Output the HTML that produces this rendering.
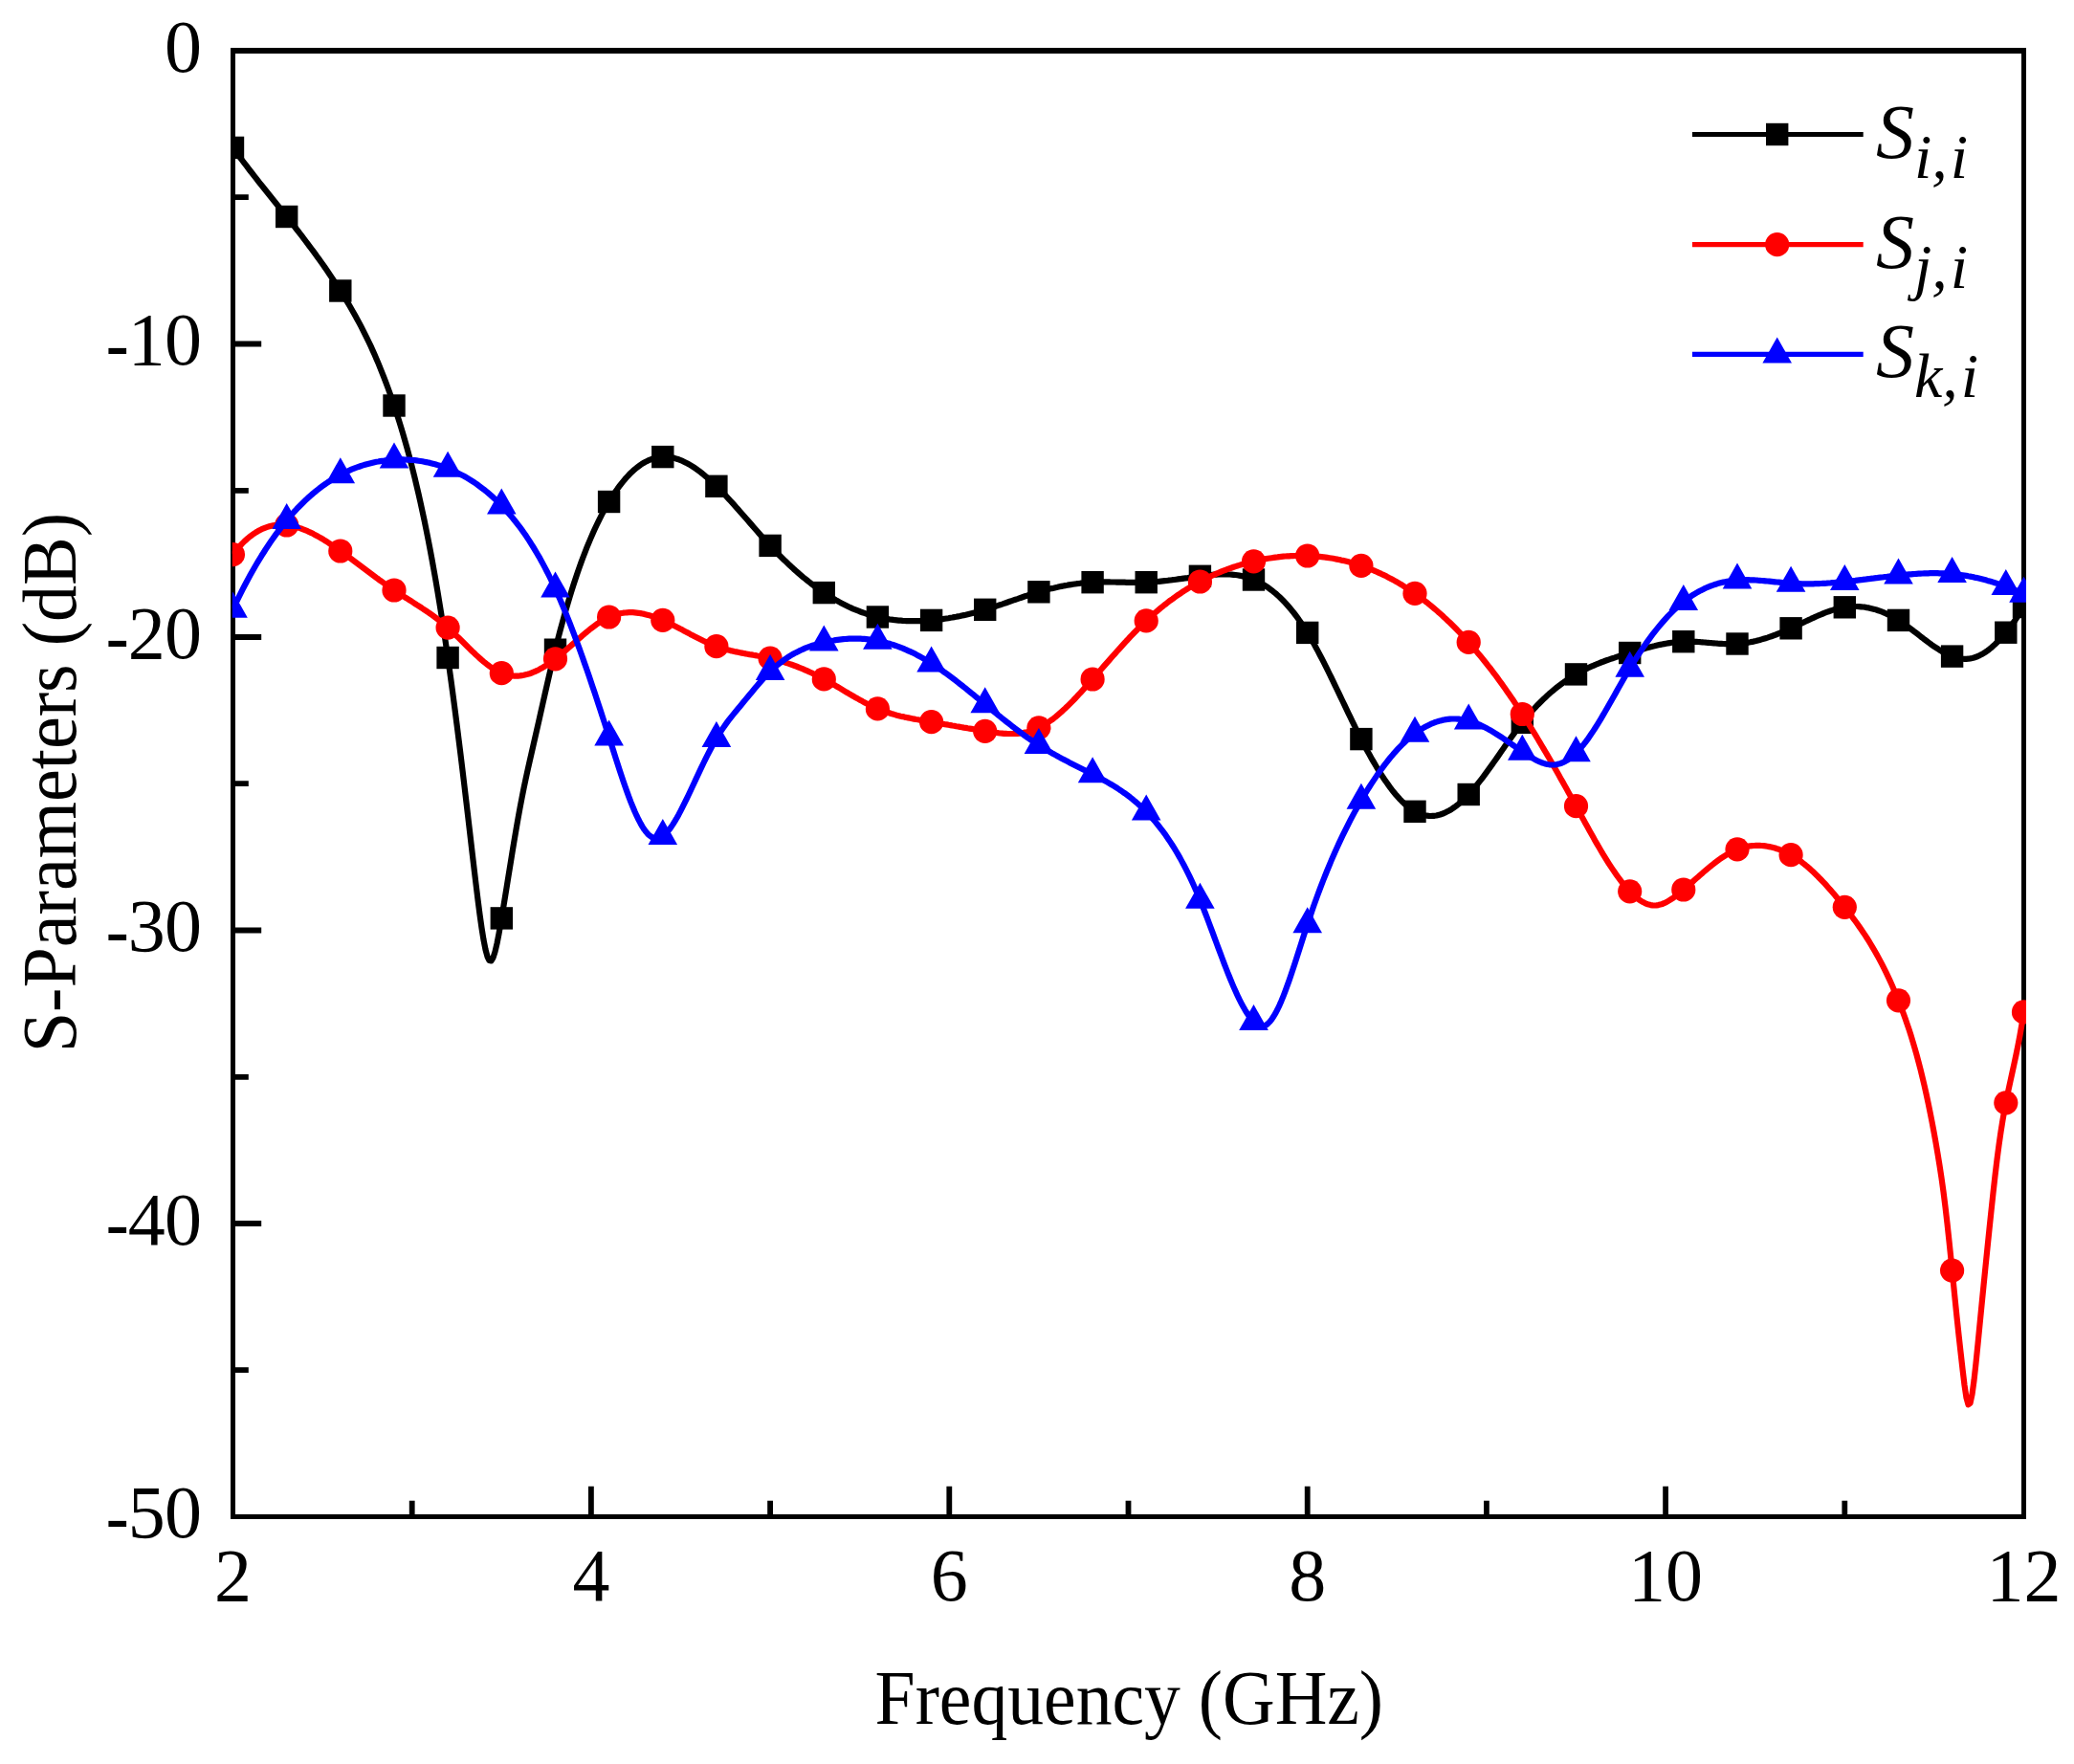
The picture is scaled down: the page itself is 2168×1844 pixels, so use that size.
<!DOCTYPE html>
<html lang="en"><head><meta charset="utf-8"><title>S-Parameters</title>
<style>html,body{margin:0;padding:0;background:#fff}body{width:2168px;height:1844px;position:relative;overflow:hidden}</style></head>
<body>
<svg width="2168" height="1844" viewBox="0 0 2168 1844" style="position:absolute;left:0;top:0">
<defs><clipPath id="pc"><rect x="242.8" y="53.0" width="1875.2" height="1532.5"/></clipPath></defs>
<rect width="2168" height="1844" fill="#fff"/>
<path d="M241,50H2118V1588H241Z M246,56V1583H2113V56Z" fill="#000" fill-rule="evenodd"/>
<g clip-path="url(#pc)">
<path d="M243.5,154.4 L245.5,157.2 L247.5,159.9 L249.5,162.6 L251.5,165.3 L253.5,168.0 L255.5,170.6 L257.5,173.2 L259.5,175.9 L261.5,178.5 L263.5,181.0 L265.5,183.6 L267.5,186.2 L269.5,188.7 L271.5,191.3 L273.5,193.8 L275.5,196.3 L277.5,198.8 L279.5,201.3 L281.5,203.8 L283.5,206.3 L285.5,208.8 L287.5,211.3 L289.5,213.8 L291.5,216.3 L293.5,218.8 L295.5,221.3 L297.5,223.8 L299.5,226.3 L301.5,228.8 L303.5,231.3 L305.5,233.9 L307.5,236.4 L309.5,239.0 L311.5,241.5 L313.5,244.1 L315.5,246.7 L317.5,249.3 L319.5,252.0 L321.5,254.6 L323.5,257.3 L325.5,260.0 L327.5,262.7 L329.5,265.4 L331.5,268.2 L333.5,270.9 L335.5,273.7 L337.5,276.6 L339.5,279.4 L341.5,282.3 L343.5,285.3 L345.5,288.2 L347.5,291.2 L349.5,294.2 L351.5,297.3 L353.5,300.4 L355.5,303.5 L357.5,306.7 L359.5,309.9 L361.5,313.1 L363.5,316.4 L365.5,319.8 L367.5,323.2 L369.5,326.7 L371.5,330.3 L373.5,333.9 L375.5,337.6 L377.5,341.4 L379.5,345.3 L381.5,349.3 L383.5,353.3 L385.5,357.5 L387.5,361.7 L389.5,366.1 L391.5,370.6 L393.5,375.2 L395.5,379.9 L397.5,384.8 L399.5,389.8 L401.5,394.9 L403.5,400.1 L405.5,405.5 L407.5,411.0 L409.5,416.7 L411.5,422.6 L413.5,428.6 L415.5,434.8 L417.5,441.1 L419.5,447.6 L421.5,454.4 L423.5,461.3 L425.5,468.4 L427.5,475.8 L429.5,483.4 L431.5,491.2 L433.5,499.3 L435.5,507.7 L437.5,516.3 L439.5,525.1 L441.5,534.3 L443.5,543.7 L445.5,553.5 L447.5,563.5 L449.5,573.9 L451.5,584.6 L453.5,595.7 L455.5,607.0 L457.5,618.8 L459.5,630.9 L461.5,643.3 L463.5,656.2 L465.5,669.4 L467.5,683.1 L469.5,697.1 L471.5,711.5 L473.5,726.3 L475.5,741.5 L477.5,757.0 L479.5,772.8 L481.5,788.9 L483.5,805.3 L485.5,822.0 L487.5,838.9 L489.5,856.0 L491.5,873.2 L493.5,890.3 L495.5,907.3 L497.5,924.0 L499.5,940.3 L501.5,955.8 L503.5,970.0 L505.5,982.4 L507.5,992.6 L509.5,1000.0 L511.5,1004.0 L513.5,1004.4 L515.5,1001.1 L517.5,994.9 L519.5,986.4 L521.5,976.1 L523.5,964.7 L525.5,952.7 L527.5,940.5 L529.5,928.2 L531.5,915.8 L533.5,903.4 L535.5,891.1 L537.5,879.1 L539.5,867.2 L541.5,855.8 L543.5,844.8 L545.5,834.2 L547.5,824.2 L549.5,814.7 L551.5,805.4 L553.5,796.5 L555.5,787.7 L557.5,779.0 L559.5,770.3 L561.5,761.5 L563.5,752.7 L565.5,743.8 L567.5,734.9 L569.5,726.0 L571.5,717.2 L573.5,708.5 L575.5,699.9 L577.5,691.4 L579.5,683.1 L581.5,675.0 L583.5,667.1 L585.5,659.4 L587.5,652.0 L589.5,644.7 L591.5,637.6 L593.5,630.8 L595.5,624.1 L597.5,617.6 L599.5,611.3 L601.5,605.2 L603.5,599.3 L605.5,593.5 L607.5,587.9 L609.5,582.5 L611.5,577.3 L613.5,572.2 L615.5,567.3 L617.5,562.6 L619.5,558.0 L621.5,553.5 L623.5,549.2 L625.5,545.1 L627.5,541.1 L629.5,537.2 L631.5,533.5 L633.5,529.9 L635.5,526.4 L637.5,523.0 L639.5,519.8 L641.5,516.7 L643.5,513.8 L645.5,510.9 L647.5,508.2 L649.5,505.6 L651.5,503.1 L653.5,500.7 L655.5,498.5 L657.5,496.3 L659.5,494.3 L661.5,492.4 L663.5,490.7 L665.5,489.0 L667.5,487.5 L669.5,486.0 L671.5,484.7 L673.5,483.5 L675.5,482.4 L677.5,481.4 L679.5,480.6 L681.5,479.8 L683.5,479.2 L685.5,478.6 L687.5,478.2 L689.5,477.9 L691.5,477.7 L693.5,477.6 L695.5,477.6 L697.5,477.7 L699.5,477.9 L701.5,478.2 L703.5,478.6 L705.5,479.1 L707.5,479.7 L709.5,480.3 L711.5,481.1 L713.5,481.9 L715.5,482.9 L717.5,483.9 L719.5,485.0 L721.5,486.1 L723.5,487.3 L725.5,488.6 L727.5,490.0 L729.5,491.5 L731.5,492.9 L733.5,494.5 L735.5,496.1 L737.5,497.8 L739.5,499.5 L741.5,501.3 L743.5,503.1 L745.5,505.0 L747.5,506.9 L749.5,508.9 L751.5,510.8 L753.5,512.9 L755.5,514.9 L757.5,517.0 L759.5,519.2 L761.5,521.3 L763.5,523.5 L765.5,525.7 L767.5,527.9 L769.5,530.2 L771.5,532.4 L773.5,534.7 L775.5,537.0 L777.5,539.3 L779.5,541.5 L781.5,543.8 L783.5,546.1 L785.5,548.4 L787.5,550.7 L789.5,553.0 L791.5,555.3 L793.5,557.6 L795.5,559.8 L797.5,562.1 L799.5,564.3 L801.5,566.5 L803.5,568.7 L805.5,570.8 L807.5,573.0 L809.5,575.1 L811.5,577.1 L813.5,579.2 L815.5,581.2 L817.5,583.2 L819.5,585.2 L821.5,587.1 L823.5,589.0 L825.5,590.9 L827.5,592.7 L829.5,594.6 L831.5,596.4 L833.5,598.1 L835.5,599.9 L837.5,601.6 L839.5,603.3 L841.5,604.9 L843.5,606.5 L845.5,608.1 L847.5,609.7 L849.5,611.2 L851.5,612.7 L853.5,614.2 L855.5,615.6 L857.5,617.0 L859.5,618.4 L861.5,619.8 L863.5,621.1 L865.5,622.4 L867.5,623.6 L869.5,624.8 L871.5,626.0 L873.5,627.2 L875.5,628.3 L877.5,629.4 L879.5,630.5 L881.5,631.5 L883.5,632.5 L885.5,633.5 L887.5,634.5 L889.5,635.4 L891.5,636.3 L893.5,637.1 L895.5,637.9 L897.5,638.7 L899.5,639.5 L901.5,640.2 L903.5,640.9 L905.5,641.6 L907.5,642.3 L909.5,642.9 L911.5,643.5 L913.5,644.0 L915.5,644.5 L917.5,645.0 L919.5,645.5 L921.5,645.9 L923.5,646.3 L925.5,646.7 L927.5,647.0 L929.5,647.4 L931.5,647.7 L933.5,647.9 L935.5,648.2 L937.5,648.4 L939.5,648.6 L941.5,648.7 L943.5,648.9 L945.5,649.0 L947.5,649.1 L949.5,649.2 L951.5,649.2 L953.5,649.2 L955.5,649.2 L957.5,649.2 L959.5,649.2 L961.5,649.1 L963.5,649.1 L965.5,649.0 L967.5,648.9 L969.5,648.7 L971.5,648.6 L973.5,648.4 L975.5,648.2 L977.5,648.0 L979.5,647.8 L981.5,647.6 L983.5,647.3 L985.5,647.1 L987.5,646.8 L989.5,646.5 L991.5,646.2 L993.5,645.8 L995.5,645.5 L997.5,645.1 L999.5,644.8 L1001.5,644.4 L1003.5,644.0 L1005.5,643.5 L1007.5,643.1 L1009.5,642.7 L1011.5,642.2 L1013.5,641.7 L1015.5,641.2 L1017.5,640.7 L1019.5,640.2 L1021.5,639.7 L1023.5,639.1 L1025.5,638.5 L1027.5,638.0 L1029.5,637.4 L1031.5,636.8 L1033.5,636.2 L1035.5,635.5 L1037.5,634.9 L1039.5,634.2 L1041.5,633.6 L1043.5,632.9 L1045.5,632.2 L1047.5,631.6 L1049.5,630.9 L1051.5,630.2 L1053.5,629.5 L1055.5,628.8 L1057.5,628.1 L1059.5,627.4 L1061.5,626.7 L1063.5,626.1 L1065.5,625.4 L1067.5,624.7 L1069.5,624.0 L1071.5,623.3 L1073.5,622.7 L1075.5,622.0 L1077.5,621.4 L1079.5,620.8 L1081.5,620.1 L1083.5,619.5 L1085.5,618.9 L1087.5,618.3 L1089.5,617.8 L1091.5,617.2 L1093.5,616.7 L1095.5,616.1 L1097.5,615.6 L1099.5,615.1 L1101.5,614.7 L1103.5,614.2 L1105.5,613.8 L1107.5,613.3 L1109.5,612.9 L1111.5,612.5 L1113.5,612.1 L1115.5,611.8 L1117.5,611.4 L1119.5,611.1 L1121.5,610.8 L1123.5,610.5 L1125.5,610.2 L1127.5,610.0 L1129.5,609.7 L1131.5,609.5 L1133.5,609.3 L1135.5,609.1 L1137.5,609.0 L1139.5,608.8 L1141.5,608.7 L1143.5,608.6 L1145.5,608.6 L1147.5,608.5 L1149.5,608.4 L1151.5,608.4 L1153.5,608.4 L1155.5,608.4 L1157.5,608.4 L1159.5,608.4 L1161.5,608.5 L1163.5,608.5 L1165.5,608.5 L1167.5,608.6 L1169.5,608.6 L1171.5,608.7 L1173.5,608.7 L1175.5,608.7 L1177.5,608.8 L1179.5,608.8 L1181.5,608.9 L1183.5,608.9 L1185.5,608.9 L1187.5,608.9 L1189.5,608.9 L1191.5,608.9 L1193.5,608.8 L1195.5,608.8 L1197.5,608.7 L1199.5,608.6 L1201.5,608.5 L1203.5,608.4 L1205.5,608.3 L1207.5,608.1 L1209.5,608.0 L1211.5,607.8 L1213.5,607.6 L1215.5,607.4 L1217.5,607.2 L1219.5,607.0 L1221.5,606.7 L1223.5,606.5 L1225.5,606.2 L1227.5,606.0 L1229.5,605.7 L1231.5,605.4 L1233.5,605.2 L1235.5,604.9 L1237.5,604.6 L1239.5,604.3 L1241.5,604.1 L1243.5,603.8 L1245.5,603.5 L1247.5,603.2 L1249.5,602.9 L1251.5,602.7 L1253.5,602.4 L1255.5,602.2 L1257.5,601.9 L1259.5,601.7 L1261.5,601.4 L1263.5,601.2 L1265.5,601.0 L1267.5,600.8 L1269.5,600.7 L1271.5,600.6 L1273.5,600.4 L1275.5,600.4 L1277.5,600.3 L1279.5,600.3 L1281.5,600.3 L1283.5,600.4 L1285.5,600.5 L1287.5,600.6 L1289.5,600.8 L1291.5,601.0 L1293.5,601.3 L1295.5,601.6 L1297.5,602.0 L1299.5,602.5 L1301.5,603.0 L1303.5,603.5 L1305.5,604.1 L1307.5,604.8 L1309.5,605.6 L1311.5,606.4 L1313.5,607.3 L1315.5,608.3 L1317.5,609.3 L1319.5,610.4 L1321.5,611.6 L1323.5,612.9 L1325.5,614.2 L1327.5,615.7 L1329.5,617.2 L1331.5,618.8 L1333.5,620.4 L1335.5,622.2 L1337.5,624.0 L1339.5,626.0 L1341.5,628.0 L1343.5,630.1 L1345.5,632.3 L1347.5,634.6 L1349.5,637.0 L1351.5,639.4 L1353.5,642.0 L1355.5,644.7 L1357.5,647.4 L1359.5,650.3 L1361.5,653.2 L1363.5,656.3 L1365.5,659.5 L1367.5,662.7 L1369.5,666.1 L1371.5,669.5 L1373.5,673.1 L1375.5,676.7 L1377.5,680.4 L1379.5,684.2 L1381.5,688.0 L1383.5,691.9 L1385.5,695.9 L1387.5,699.9 L1389.5,704.0 L1391.5,708.0 L1393.5,712.2 L1395.5,716.3 L1397.5,720.5 L1399.5,724.7 L1401.5,728.8 L1403.5,733.0 L1405.5,737.2 L1407.5,741.4 L1409.5,745.6 L1411.5,749.7 L1413.5,753.8 L1415.5,757.9 L1417.5,762.0 L1419.5,766.0 L1421.5,769.9 L1423.5,773.8 L1425.5,777.7 L1427.5,781.5 L1429.5,785.2 L1431.5,788.8 L1433.5,792.4 L1435.5,795.9 L1437.5,799.3 L1439.5,802.7 L1441.5,806.0 L1443.5,809.1 L1445.5,812.2 L1447.5,815.2 L1449.5,818.1 L1451.5,820.9 L1453.5,823.7 L1455.5,826.3 L1457.5,828.8 L1459.5,831.2 L1461.5,833.4 L1463.5,835.6 L1465.5,837.7 L1467.5,839.6 L1469.5,841.4 L1471.5,843.1 L1473.5,844.7 L1475.5,846.1 L1477.5,847.4 L1479.5,848.6 L1481.5,849.6 L1483.5,850.5 L1485.5,851.2 L1487.5,851.8 L1489.5,852.3 L1491.5,852.7 L1493.5,852.9 L1495.5,853.0 L1497.5,852.9 L1499.5,852.8 L1501.5,852.5 L1503.5,852.0 L1505.5,851.5 L1507.5,850.8 L1509.5,850.0 L1511.5,849.1 L1513.5,848.1 L1515.5,847.0 L1517.5,845.8 L1519.5,844.4 L1521.5,843.0 L1523.5,841.5 L1525.5,839.8 L1527.5,838.1 L1529.5,836.2 L1531.5,834.3 L1533.5,832.3 L1535.5,830.2 L1537.5,828.0 L1539.5,825.7 L1541.5,823.3 L1543.5,820.9 L1545.5,818.4 L1547.5,815.9 L1549.5,813.3 L1551.5,810.6 L1553.5,807.9 L1555.5,805.2 L1557.5,802.4 L1559.5,799.6 L1561.5,796.8 L1563.5,793.9 L1565.5,791.1 L1567.5,788.2 L1569.5,785.3 L1571.5,782.5 L1573.5,779.6 L1575.5,776.8 L1577.5,773.9 L1579.5,771.1 L1581.5,768.4 L1583.5,765.6 L1585.5,762.9 L1587.5,760.3 L1589.5,757.7 L1591.5,755.1 L1593.5,752.6 L1595.5,750.2 L1597.5,747.8 L1599.5,745.5 L1601.5,743.2 L1603.5,741.0 L1605.5,738.8 L1607.5,736.7 L1609.5,734.7 L1611.5,732.7 L1613.5,730.8 L1615.5,728.9 L1617.5,727.0 L1619.5,725.2 L1621.5,723.5 L1623.5,721.8 L1625.5,720.1 L1627.5,718.5 L1629.5,717.0 L1631.5,715.5 L1633.5,714.0 L1635.5,712.6 L1637.5,711.2 L1639.5,709.9 L1641.5,708.6 L1643.5,707.3 L1645.5,706.1 L1647.5,704.9 L1649.5,703.8 L1651.5,702.7 L1653.5,701.6 L1655.5,700.5 L1657.5,699.5 L1659.5,698.6 L1661.5,697.6 L1663.5,696.7 L1665.5,695.8 L1667.5,695.0 L1669.5,694.1 L1671.5,693.3 L1673.5,692.5 L1675.5,691.8 L1677.5,691.0 L1679.5,690.3 L1681.5,689.6 L1683.5,688.9 L1685.5,688.2 L1687.5,687.6 L1689.5,686.9 L1691.5,686.3 L1693.5,685.6 L1695.5,685.0 L1697.5,684.4 L1699.5,683.8 L1701.5,683.2 L1703.5,682.5 L1705.5,681.9 L1707.5,681.3 L1709.5,680.7 L1711.5,680.2 L1713.5,679.6 L1715.5,679.0 L1717.5,678.4 L1719.5,677.9 L1721.5,677.3 L1723.5,676.8 L1725.5,676.2 L1727.5,675.7 L1729.5,675.3 L1731.5,674.8 L1733.5,674.3 L1735.5,673.9 L1737.5,673.5 L1739.5,673.1 L1741.5,672.7 L1743.5,672.4 L1745.5,672.1 L1747.5,671.8 L1749.5,671.5 L1751.5,671.3 L1753.5,671.1 L1755.5,670.9 L1757.5,670.8 L1759.5,670.7 L1761.5,670.7 L1763.5,670.6 L1765.5,670.6 L1767.5,670.7 L1769.5,670.7 L1771.5,670.8 L1773.5,670.9 L1775.5,671.0 L1777.5,671.2 L1779.5,671.3 L1781.5,671.5 L1783.5,671.7 L1785.5,671.8 L1787.5,672.0 L1789.5,672.2 L1791.5,672.3 L1793.5,672.5 L1795.5,672.7 L1797.5,672.8 L1799.5,672.9 L1801.5,673.0 L1803.5,673.1 L1805.5,673.2 L1807.5,673.2 L1809.5,673.2 L1811.5,673.2 L1813.5,673.1 L1815.5,673.0 L1817.5,672.9 L1819.5,672.7 L1821.5,672.5 L1823.5,672.2 L1825.5,672.0 L1827.5,671.6 L1829.5,671.3 L1831.5,670.9 L1833.5,670.4 L1835.5,670.0 L1837.5,669.5 L1839.5,669.0 L1841.5,668.4 L1843.5,667.8 L1845.5,667.2 L1847.5,666.6 L1849.5,665.9 L1851.5,665.2 L1853.5,664.5 L1855.5,663.8 L1857.5,663.0 L1859.5,662.2 L1861.5,661.4 L1863.5,660.6 L1865.5,659.7 L1867.5,658.9 L1869.5,658.0 L1871.5,657.1 L1873.5,656.2 L1875.5,655.2 L1877.5,654.3 L1879.5,653.4 L1881.5,652.4 L1883.5,651.5 L1885.5,650.5 L1887.5,649.5 L1889.5,648.6 L1891.5,647.7 L1893.5,646.7 L1895.5,645.8 L1897.5,644.9 L1899.5,644.0 L1901.5,643.1 L1903.5,642.3 L1905.5,641.5 L1907.5,640.7 L1909.5,639.9 L1911.5,639.2 L1913.5,638.5 L1915.5,637.9 L1917.5,637.3 L1919.5,636.7 L1921.5,636.2 L1923.5,635.7 L1925.5,635.3 L1927.5,634.9 L1929.5,634.6 L1931.5,634.4 L1933.5,634.2 L1935.5,634.1 L1937.5,634.0 L1939.5,634.0 L1941.5,634.0 L1943.5,634.1 L1945.5,634.3 L1947.5,634.5 L1949.5,634.7 L1951.5,635.1 L1953.5,635.4 L1955.5,635.9 L1957.5,636.4 L1959.5,636.9 L1961.5,637.5 L1963.5,638.2 L1965.5,638.9 L1967.5,639.7 L1969.5,640.5 L1971.5,641.4 L1973.5,642.3 L1975.5,643.3 L1977.5,644.3 L1979.5,645.4 L1981.5,646.6 L1983.5,647.8 L1985.5,649.1 L1987.5,650.4 L1989.5,651.7 L1991.5,653.1 L1993.5,654.6 L1995.5,656.0 L1997.5,657.5 L1999.5,659.0 L2001.5,660.6 L2003.5,662.1 L2005.5,663.6 L2007.5,665.2 L2009.5,666.7 L2011.5,668.3 L2013.5,669.8 L2015.5,671.3 L2017.5,672.7 L2019.5,674.2 L2021.5,675.6 L2023.5,676.9 L2025.5,678.2 L2027.5,679.5 L2029.5,680.7 L2031.5,681.8 L2033.5,682.9 L2035.5,683.9 L2037.5,684.8 L2039.5,685.7 L2041.5,686.4 L2043.5,687.1 L2045.5,687.6 L2047.5,688.1 L2049.5,688.5 L2051.5,688.7 L2053.5,688.8 L2055.5,688.8 L2057.5,688.7 L2059.5,688.4 L2061.5,688.0 L2063.5,687.5 L2065.5,686.8 L2067.5,686.0 L2069.5,685.1 L2071.5,684.1 L2073.5,682.9 L2075.5,681.6 L2077.5,680.2 L2079.5,678.7 L2081.5,677.1 L2083.5,675.3 L2085.5,673.5 L2087.5,671.6 L2089.5,669.5 L2091.5,667.3 L2093.5,665.1 L2095.5,662.8 L2097.5,660.3 L2099.5,657.8 L2101.5,655.2 L2103.5,652.4 L2105.5,649.7 L2107.5,646.8 L2109.5,643.8 L2111.5,640.8 L2113.5,637.7 L2115.5,634.5" fill="none" stroke="#000" stroke-width="6.2" stroke-linejoin="round"/>
<g fill="#000"><rect x="231.8" y="142.7" width="23.4" height="23.4"/><rect x="288.0" y="214.8" width="23.4" height="23.4"/><rect x="344.1" y="292.3" width="23.4" height="23.4"/><rect x="400.3" y="412.3" width="23.4" height="23.4"/><rect x="456.4" y="675.8" width="23.4" height="23.4"/><rect x="512.6" y="948.2" width="23.4" height="23.4"/><rect x="568.8" y="667.5" width="23.4" height="23.4"/><rect x="624.9" y="512.8" width="23.4" height="23.4"/><rect x="681.1" y="465.9" width="23.4" height="23.4"/><rect x="737.2" y="496.6" width="23.4" height="23.4"/><rect x="793.4" y="558.7" width="23.4" height="23.4"/><rect x="849.6" y="607.9" width="23.4" height="23.4"/><rect x="905.7" y="633.3" width="23.4" height="23.4"/><rect x="961.9" y="636.7" width="23.4" height="23.4"/><rect x="1018.0" y="625.6" width="23.4" height="23.4"/><rect x="1074.2" y="607.1" width="23.4" height="23.4"/><rect x="1130.4" y="597.0" width="23.4" height="23.4"/><rect x="1186.5" y="597.0" width="23.4" height="23.4"/><rect x="1242.7" y="590.6" width="23.4" height="23.4"/><rect x="1298.8" y="594.3" width="23.4" height="23.4"/><rect x="1355.0" y="649.7" width="23.4" height="23.4"/><rect x="1411.2" y="760.9" width="23.4" height="23.4"/><rect x="1467.3" y="836.6" width="23.4" height="23.4"/><rect x="1523.5" y="818.8" width="23.4" height="23.4"/><rect x="1579.6" y="743.6" width="23.4" height="23.4"/><rect x="1635.8" y="693.2" width="23.4" height="23.4"/><rect x="1692.0" y="670.8" width="23.4" height="23.4"/><rect x="1748.1" y="659.0" width="23.4" height="23.4"/><rect x="1804.3" y="661.3" width="23.4" height="23.4"/><rect x="1860.4" y="645.1" width="23.4" height="23.4"/><rect x="1916.6" y="623.1" width="23.4" height="23.4"/><rect x="1972.8" y="636.7" width="23.4" height="23.4"/><rect x="2028.9" y="674.4" width="23.4" height="23.4"/><rect x="2085.1" y="649.5" width="23.4" height="23.4"/><rect x="2103.8" y="622.8" width="23.4" height="23.4"/></g>
<path d="M243.5,579.7 L245.5,577.1 L247.5,574.6 L249.5,572.2 L251.5,570.0 L253.5,567.9 L255.5,565.9 L257.5,564.1 L259.5,562.3 L261.5,560.7 L263.5,559.2 L265.5,557.8 L267.5,556.5 L269.5,555.3 L271.5,554.2 L273.5,553.2 L275.5,552.4 L277.5,551.6 L279.5,550.9 L281.5,550.3 L283.5,549.8 L285.5,549.4 L287.5,549.1 L289.5,548.9 L291.5,548.8 L293.5,548.7 L295.5,548.7 L297.5,548.8 L299.5,549.0 L301.5,549.2 L303.5,549.5 L305.5,549.9 L307.5,550.4 L309.5,550.9 L311.5,551.5 L313.5,552.1 L315.5,552.8 L317.5,553.6 L319.5,554.4 L321.5,555.2 L323.5,556.2 L325.5,557.1 L327.5,558.1 L329.5,559.2 L331.5,560.3 L333.5,561.4 L335.5,562.5 L337.5,563.7 L339.5,565.0 L341.5,566.2 L343.5,567.5 L345.5,568.9 L347.5,570.2 L349.5,571.6 L351.5,572.9 L353.5,574.4 L355.5,575.8 L357.5,577.2 L359.5,578.6 L361.5,580.1 L363.5,581.6 L365.5,583.0 L367.5,584.5 L369.5,586.0 L371.5,587.5 L373.5,589.0 L375.5,590.5 L377.5,592.0 L379.5,593.5 L381.5,595.0 L383.5,596.5 L385.5,598.0 L387.5,599.5 L389.5,601.0 L391.5,602.5 L393.5,604.0 L395.5,605.4 L397.5,606.9 L399.5,608.3 L401.5,609.7 L403.5,611.2 L405.5,612.6 L407.5,614.0 L409.5,615.3 L411.5,616.7 L413.5,618.0 L415.5,619.3 L417.5,620.6 L419.5,621.9 L421.5,623.2 L423.5,624.5 L425.5,625.7 L427.5,627.0 L429.5,628.2 L431.5,629.5 L433.5,630.8 L435.5,632.1 L437.5,633.3 L439.5,634.6 L441.5,636.0 L443.5,637.3 L445.5,638.6 L447.5,640.0 L449.5,641.4 L451.5,642.8 L453.5,644.3 L455.5,645.8 L457.5,647.3 L459.5,648.9 L461.5,650.5 L463.5,652.1 L465.5,653.8 L467.5,655.5 L469.5,657.3 L471.5,659.2 L473.5,661.0 L475.5,662.9 L477.5,664.9 L479.5,666.8 L481.5,668.8 L483.5,670.8 L485.5,672.8 L487.5,674.8 L489.5,676.8 L491.5,678.7 L493.5,680.7 L495.5,682.6 L497.5,684.5 L499.5,686.3 L501.5,688.1 L503.5,689.9 L505.5,691.6 L507.5,693.2 L509.5,694.8 L511.5,696.3 L513.5,697.7 L515.5,699.0 L517.5,700.3 L519.5,701.4 L521.5,702.4 L523.5,703.4 L525.5,704.2 L527.5,704.9 L529.5,705.4 L531.5,705.9 L533.5,706.2 L535.5,706.5 L537.5,706.6 L539.5,706.6 L541.5,706.6 L543.5,706.4 L545.5,706.1 L547.5,705.8 L549.5,705.3 L551.5,704.8 L553.5,704.2 L555.5,703.5 L557.5,702.7 L559.5,701.8 L561.5,700.9 L563.5,699.9 L565.5,698.8 L567.5,697.7 L569.5,696.5 L571.5,695.2 L573.5,693.9 L575.5,692.5 L577.5,691.0 L579.5,689.5 L581.5,688.0 L583.5,686.4 L585.5,684.8 L587.5,683.1 L589.5,681.4 L591.5,679.7 L593.5,677.9 L595.5,676.2 L597.5,674.4 L599.5,672.6 L601.5,670.9 L603.5,669.1 L605.5,667.3 L607.5,665.6 L609.5,663.8 L611.5,662.1 L613.5,660.5 L615.5,658.8 L617.5,657.2 L619.5,655.7 L621.5,654.2 L623.5,652.7 L625.5,651.4 L627.5,650.0 L629.5,648.8 L631.5,647.6 L633.5,646.5 L635.5,645.5 L637.5,644.6 L639.5,643.8 L641.5,643.1 L643.5,642.4 L645.5,641.9 L647.5,641.4 L649.5,641.0 L651.5,640.7 L653.5,640.5 L655.5,640.3 L657.5,640.2 L659.5,640.2 L661.5,640.2 L663.5,640.4 L665.5,640.6 L667.5,640.8 L669.5,641.1 L671.5,641.5 L673.5,641.9 L675.5,642.4 L677.5,642.9 L679.5,643.5 L681.5,644.1 L683.5,644.8 L685.5,645.5 L687.5,646.2 L689.5,647.0 L691.5,647.9 L693.5,648.7 L695.5,649.6 L697.5,650.5 L699.5,651.5 L701.5,652.4 L703.5,653.4 L705.5,654.4 L707.5,655.5 L709.5,656.5 L711.5,657.6 L713.5,658.6 L715.5,659.7 L717.5,660.7 L719.5,661.8 L721.5,662.9 L723.5,663.9 L725.5,665.0 L727.5,666.0 L729.5,667.0 L731.5,668.0 L733.5,669.0 L735.5,670.0 L737.5,670.9 L739.5,671.8 L741.5,672.7 L743.5,673.6 L745.5,674.4 L747.5,675.2 L749.5,675.9 L751.5,676.6 L753.5,677.3 L755.5,677.9 L757.5,678.5 L759.5,679.0 L761.5,679.6 L763.5,680.1 L765.5,680.5 L767.5,681.0 L769.5,681.4 L771.5,681.8 L773.5,682.2 L775.5,682.6 L777.5,683.0 L779.5,683.4 L781.5,683.7 L783.5,684.1 L785.5,684.4 L787.5,684.8 L789.5,685.1 L791.5,685.5 L793.5,685.8 L795.5,686.2 L797.5,686.6 L799.5,687.0 L801.5,687.4 L803.5,687.8 L805.5,688.3 L807.5,688.8 L809.5,689.3 L811.5,689.8 L813.5,690.3 L815.5,690.9 L817.5,691.5 L819.5,692.1 L821.5,692.7 L823.5,693.4 L825.5,694.1 L827.5,694.8 L829.5,695.5 L831.5,696.2 L833.5,697.0 L835.5,697.8 L837.5,698.6 L839.5,699.4 L841.5,700.3 L843.5,701.2 L845.5,702.1 L847.5,703.0 L849.5,703.9 L851.5,704.9 L853.5,705.9 L855.5,706.9 L857.5,707.9 L859.5,709.0 L861.5,710.0 L863.5,711.1 L865.5,712.2 L867.5,713.4 L869.5,714.5 L871.5,715.7 L873.5,716.8 L875.5,718.0 L877.5,719.2 L879.5,720.4 L881.5,721.6 L883.5,722.8 L885.5,724.0 L887.5,725.2 L889.5,726.3 L891.5,727.5 L893.5,728.7 L895.5,729.8 L897.5,730.9 L899.5,732.1 L901.5,733.1 L903.5,734.2 L905.5,735.3 L907.5,736.3 L909.5,737.3 L911.5,738.2 L913.5,739.2 L915.5,740.1 L917.5,740.9 L919.5,741.8 L921.5,742.5 L923.5,743.3 L925.5,744.0 L927.5,744.7 L929.5,745.3 L931.5,746.0 L933.5,746.5 L935.5,747.1 L937.5,747.7 L939.5,748.2 L941.5,748.7 L943.5,749.1 L945.5,749.6 L947.5,750.0 L949.5,750.4 L951.5,750.8 L953.5,751.2 L955.5,751.6 L957.5,752.0 L959.5,752.3 L961.5,752.7 L963.5,753.0 L965.5,753.4 L967.5,753.7 L969.5,754.0 L971.5,754.4 L973.5,754.7 L975.5,755.0 L977.5,755.4 L979.5,755.7 L981.5,756.0 L983.5,756.4 L985.5,756.7 L987.5,757.1 L989.5,757.4 L991.5,757.8 L993.5,758.1 L995.5,758.5 L997.5,758.8 L999.5,759.2 L1001.5,759.5 L1003.5,759.9 L1005.5,760.2 L1007.5,760.6 L1009.5,760.9 L1011.5,761.3 L1013.5,761.6 L1015.5,761.9 L1017.5,762.3 L1019.5,762.6 L1021.5,763.0 L1023.5,763.3 L1025.5,763.6 L1027.5,763.9 L1029.5,764.3 L1031.5,764.6 L1033.5,764.9 L1035.5,765.2 L1037.5,765.5 L1039.5,765.8 L1041.5,766.0 L1043.5,766.2 L1045.5,766.5 L1047.5,766.6 L1049.5,766.8 L1051.5,766.9 L1053.5,767.0 L1055.5,767.0 L1057.5,767.0 L1059.5,767.0 L1061.5,766.9 L1063.5,766.8 L1065.5,766.6 L1067.5,766.3 L1069.5,766.0 L1071.5,765.6 L1073.5,765.2 L1075.5,764.7 L1077.5,764.1 L1079.5,763.4 L1081.5,762.7 L1083.5,761.9 L1085.5,761.0 L1087.5,760.0 L1089.5,758.9 L1091.5,757.8 L1093.5,756.5 L1095.5,755.2 L1097.5,753.8 L1099.5,752.4 L1101.5,750.9 L1103.5,749.3 L1105.5,747.6 L1107.5,745.9 L1109.5,744.2 L1111.5,742.3 L1113.5,740.5 L1115.5,738.6 L1117.5,736.6 L1119.5,734.6 L1121.5,732.6 L1123.5,730.5 L1125.5,728.4 L1127.5,726.2 L1129.5,724.1 L1131.5,721.9 L1133.5,719.6 L1135.5,717.4 L1137.5,715.2 L1139.5,712.9 L1141.5,710.6 L1143.5,708.4 L1145.5,706.1 L1147.5,703.8 L1149.5,701.5 L1151.5,699.2 L1153.5,696.9 L1155.5,694.6 L1157.5,692.4 L1159.5,690.1 L1161.5,687.8 L1163.5,685.5 L1165.5,683.3 L1167.5,681.0 L1169.5,678.8 L1171.5,676.6 L1173.5,674.4 L1175.5,672.2 L1177.5,670.0 L1179.5,667.9 L1181.5,665.7 L1183.5,663.6 L1185.5,661.5 L1187.5,659.5 L1189.5,657.4 L1191.5,655.4 L1193.5,653.4 L1195.5,651.5 L1197.5,649.6 L1199.5,647.7 L1201.5,645.8 L1203.5,644.0 L1205.5,642.2 L1207.5,640.5 L1209.5,638.8 L1211.5,637.1 L1213.5,635.4 L1215.5,633.8 L1217.5,632.2 L1219.5,630.7 L1221.5,629.1 L1223.5,627.6 L1225.5,626.2 L1227.5,624.7 L1229.5,623.3 L1231.5,621.9 L1233.5,620.6 L1235.5,619.2 L1237.5,617.9 L1239.5,616.7 L1241.5,615.4 L1243.5,614.2 L1245.5,613.0 L1247.5,611.8 L1249.5,610.7 L1251.5,609.6 L1253.5,608.5 L1255.5,607.4 L1257.5,606.4 L1259.5,605.3 L1261.5,604.3 L1263.5,603.4 L1265.5,602.4 L1267.5,601.5 L1269.5,600.6 L1271.5,599.7 L1273.5,598.9 L1275.5,598.0 L1277.5,597.2 L1279.5,596.4 L1281.5,595.7 L1283.5,594.9 L1285.5,594.2 L1287.5,593.5 L1289.5,592.8 L1291.5,592.1 L1293.5,591.5 L1295.5,590.9 L1297.5,590.3 L1299.5,589.7 L1301.5,589.1 L1303.5,588.6 L1305.5,588.0 L1307.5,587.5 L1309.5,587.0 L1311.5,586.6 L1313.5,586.1 L1315.5,585.7 L1317.5,585.3 L1319.5,584.9 L1321.5,584.5 L1323.5,584.1 L1325.5,583.8 L1327.5,583.5 L1329.5,583.2 L1331.5,582.9 L1333.5,582.6 L1335.5,582.4 L1337.5,582.1 L1339.5,581.9 L1341.5,581.7 L1343.5,581.5 L1345.5,581.4 L1347.5,581.3 L1349.5,581.1 L1351.5,581.1 L1353.5,581.0 L1355.5,580.9 L1357.5,580.9 L1359.5,580.9 L1361.5,580.9 L1363.5,580.9 L1365.5,581.0 L1367.5,581.0 L1369.5,581.1 L1371.5,581.2 L1373.5,581.4 L1375.5,581.5 L1377.5,581.7 L1379.5,581.9 L1381.5,582.1 L1383.5,582.3 L1385.5,582.6 L1387.5,582.9 L1389.5,583.2 L1391.5,583.5 L1393.5,583.8 L1395.5,584.2 L1397.5,584.6 L1399.5,585.0 L1401.5,585.4 L1403.5,585.9 L1405.5,586.3 L1407.5,586.8 L1409.5,587.3 L1411.5,587.9 L1413.5,588.5 L1415.5,589.0 L1417.5,589.7 L1419.5,590.3 L1421.5,590.9 L1423.5,591.6 L1425.5,592.3 L1427.5,593.0 L1429.5,593.8 L1431.5,594.6 L1433.5,595.4 L1435.5,596.2 L1437.5,597.0 L1439.5,597.9 L1441.5,598.8 L1443.5,599.7 L1445.5,600.7 L1447.5,601.6 L1449.5,602.6 L1451.5,603.7 L1453.5,604.7 L1455.5,605.8 L1457.5,606.9 L1459.5,608.0 L1461.5,609.1 L1463.5,610.3 L1465.5,611.5 L1467.5,612.8 L1469.5,614.0 L1471.5,615.3 L1473.5,616.6 L1475.5,618.0 L1477.5,619.3 L1479.5,620.7 L1481.5,622.2 L1483.5,623.6 L1485.5,625.1 L1487.5,626.6 L1489.5,628.2 L1491.5,629.7 L1493.5,631.3 L1495.5,633.0 L1497.5,634.6 L1499.5,636.3 L1501.5,638.0 L1503.5,639.8 L1505.5,641.5 L1507.5,643.3 L1509.5,645.2 L1511.5,647.0 L1513.5,648.9 L1515.5,650.8 L1517.5,652.8 L1519.5,654.8 L1521.5,656.8 L1523.5,658.8 L1525.5,660.9 L1527.5,663.0 L1529.5,665.2 L1531.5,667.3 L1533.5,669.5 L1535.5,671.8 L1537.5,674.0 L1539.5,676.3 L1541.5,678.6 L1543.5,681.0 L1545.5,683.4 L1547.5,685.8 L1549.5,688.2 L1551.5,690.7 L1553.5,693.2 L1555.5,695.8 L1557.5,698.3 L1559.5,700.9 L1561.5,703.6 L1563.5,706.2 L1565.5,708.9 L1567.5,711.7 L1569.5,714.4 L1571.5,717.2 L1573.5,720.0 L1575.5,722.9 L1577.5,725.8 L1579.5,728.7 L1581.5,731.6 L1583.5,734.6 L1585.5,737.6 L1587.5,740.6 L1589.5,743.7 L1591.5,746.7 L1593.5,749.9 L1595.5,753.0 L1597.5,756.2 L1599.5,759.4 L1601.5,762.6 L1603.5,765.9 L1605.5,769.2 L1607.5,772.5 L1609.5,775.8 L1611.5,779.2 L1613.5,782.6 L1615.5,786.0 L1617.5,789.4 L1619.5,792.8 L1621.5,796.3 L1623.5,799.8 L1625.5,803.3 L1627.5,806.8 L1629.5,810.3 L1631.5,813.9 L1633.5,817.4 L1635.5,821.0 L1637.5,824.6 L1639.5,828.2 L1641.5,831.8 L1643.5,835.4 L1645.5,839.1 L1647.5,842.7 L1649.5,846.4 L1651.5,850.0 L1653.5,853.7 L1655.5,857.3 L1657.5,861.0 L1659.5,864.6 L1661.5,868.2 L1663.5,871.8 L1665.5,875.3 L1667.5,878.9 L1669.5,882.4 L1671.5,885.8 L1673.5,889.2 L1675.5,892.6 L1677.5,895.8 L1679.5,899.1 L1681.5,902.3 L1683.5,905.4 L1685.5,908.4 L1687.5,911.3 L1689.5,914.2 L1691.5,917.0 L1693.5,919.7 L1695.5,922.3 L1697.5,924.8 L1699.5,927.2 L1701.5,929.5 L1703.5,931.6 L1705.5,933.7 L1707.5,935.6 L1709.5,937.4 L1711.5,939.0 L1713.5,940.6 L1715.5,941.9 L1717.5,943.1 L1719.5,944.1 L1721.5,945.0 L1723.5,945.6 L1725.5,946.1 L1727.5,946.4 L1729.5,946.5 L1731.5,946.4 L1733.5,946.1 L1735.5,945.6 L1737.5,945.0 L1739.5,944.2 L1741.5,943.2 L1743.5,942.1 L1745.5,940.9 L1747.5,939.6 L1749.5,938.3 L1751.5,936.8 L1753.5,935.2 L1755.5,933.6 L1757.5,932.0 L1759.5,930.3 L1761.5,928.6 L1763.5,926.8 L1765.5,925.1 L1767.5,923.3 L1769.5,921.6 L1771.5,919.8 L1773.5,918.0 L1775.5,916.3 L1777.5,914.5 L1779.5,912.8 L1781.5,911.0 L1783.5,909.3 L1785.5,907.7 L1787.5,906.0 L1789.5,904.4 L1791.5,902.8 L1793.5,901.3 L1795.5,899.8 L1797.5,898.3 L1799.5,896.9 L1801.5,895.6 L1803.5,894.3 L1805.5,893.0 L1807.5,891.9 L1809.5,890.8 L1811.5,889.8 L1813.5,888.8 L1815.5,888.0 L1817.5,887.2 L1819.5,886.5 L1821.5,885.9 L1823.5,885.4 L1825.5,885.0 L1827.5,884.6 L1829.5,884.3 L1831.5,884.1 L1833.5,884.0 L1835.5,883.9 L1837.5,883.9 L1839.5,883.9 L1841.5,884.0 L1843.5,884.2 L1845.5,884.4 L1847.5,884.7 L1849.5,885.1 L1851.5,885.5 L1853.5,886.0 L1855.5,886.5 L1857.5,887.2 L1859.5,887.8 L1861.5,888.6 L1863.5,889.4 L1865.5,890.3 L1867.5,891.2 L1869.5,892.2 L1871.5,893.3 L1873.5,894.5 L1875.5,895.7 L1877.5,897.0 L1879.5,898.4 L1881.5,899.8 L1883.5,901.3 L1885.5,902.9 L1887.5,904.5 L1889.5,906.2 L1891.5,907.9 L1893.5,909.7 L1895.5,911.6 L1897.5,913.5 L1899.5,915.4 L1901.5,917.5 L1903.5,919.5 L1905.5,921.6 L1907.5,923.7 L1909.5,925.9 L1911.5,928.2 L1913.5,930.4 L1915.5,932.7 L1917.5,935.1 L1919.5,937.5 L1921.5,939.9 L1923.5,942.3 L1925.5,944.8 L1927.5,947.3 L1929.5,949.8 L1931.5,952.4 L1933.5,955.0 L1935.5,957.6 L1937.5,960.3 L1939.5,963.0 L1941.5,965.8 L1943.5,968.6 L1945.5,971.5 L1947.5,974.4 L1949.5,977.4 L1951.5,980.5 L1953.5,983.7 L1955.5,987.0 L1957.5,990.3 L1959.5,993.7 L1961.5,997.2 L1963.5,1000.9 L1965.5,1004.6 L1967.5,1008.4 L1969.5,1012.3 L1971.5,1016.4 L1973.5,1020.6 L1975.5,1024.9 L1977.5,1029.3 L1979.5,1033.9 L1981.5,1038.6 L1983.5,1043.4 L1985.5,1048.4 L1987.5,1053.6 L1989.5,1058.9 L1991.5,1064.4 L1993.5,1070.2 L1995.5,1076.1 L1997.5,1082.3 L1999.5,1088.8 L2001.5,1095.6 L2003.5,1102.7 L2005.5,1110.1 L2007.5,1117.8 L2009.5,1125.9 L2011.5,1134.4 L2013.5,1143.3 L2015.5,1152.6 L2017.5,1162.3 L2019.5,1172.5 L2021.5,1183.1 L2023.5,1194.2 L2025.5,1205.9 L2027.5,1218.2 L2029.5,1231.4 L2031.5,1245.8 L2033.5,1261.6 L2035.5,1278.9 L2037.5,1297.5 L2039.5,1316.9 L2041.5,1336.9 L2043.5,1357.0 L2045.5,1376.6 L2047.5,1395.4 L2049.5,1413.4 L2051.5,1431.1 L2053.5,1447.9 L2055.5,1461.2 L2057.5,1468.3 L2059.5,1466.8 L2061.5,1457.7 L2063.5,1443.0 L2065.5,1424.8 L2067.5,1405.0 L2069.5,1384.5 L2071.5,1364.1 L2073.5,1343.9 L2075.5,1324.0 L2077.5,1304.4 L2079.5,1284.9 L2081.5,1265.7 L2083.5,1247.0 L2085.5,1229.1 L2087.5,1212.4 L2089.5,1197.1 L2091.5,1183.3 L2093.5,1170.8 L2095.5,1159.5 L2097.5,1149.1 L2099.5,1139.4 L2101.5,1130.1 L2103.5,1121.0 L2105.5,1111.9 L2107.5,1102.5 L2109.5,1092.7 L2111.5,1082.1 L2113.5,1070.6 L2115.5,1057.9" fill="none" stroke="#f00" stroke-width="6.2" stroke-linejoin="round"/>
<g fill="#f00"><circle cx="243.5" cy="579.7" r="12.6"/><circle cx="299.7" cy="549.0" r="12.6"/><circle cx="355.8" cy="576.0" r="12.6"/><circle cx="412.0" cy="617.0" r="12.6"/><circle cx="468.1" cy="656.1" r="12.6"/><circle cx="524.3" cy="703.7" r="12.6"/><circle cx="580.5" cy="688.8" r="12.6"/><circle cx="636.6" cy="645.0" r="12.6"/><circle cx="692.8" cy="648.4" r="12.6"/><circle cx="748.9" cy="675.7" r="12.6"/><circle cx="805.1" cy="688.2" r="12.6"/><circle cx="861.3" cy="709.9" r="12.6"/><circle cx="917.4" cy="740.9" r="12.6"/><circle cx="973.6" cy="754.7" r="12.6"/><circle cx="1029.7" cy="764.3" r="12.6"/><circle cx="1085.9" cy="760.8" r="12.6"/><circle cx="1142.1" cy="710.0" r="12.6"/><circle cx="1198.2" cy="648.9" r="12.6"/><circle cx="1254.4" cy="608.0" r="12.6"/><circle cx="1310.5" cy="586.8" r="12.6"/><circle cx="1366.7" cy="581.0" r="12.6"/><circle cx="1422.9" cy="591.4" r="12.6"/><circle cx="1479.0" cy="620.4" r="12.6"/><circle cx="1535.2" cy="671.4" r="12.6"/><circle cx="1591.3" cy="746.5" r="12.6"/><circle cx="1647.5" cy="842.7" r="12.6"/><circle cx="1703.7" cy="931.8" r="12.6"/><circle cx="1759.8" cy="930.0" r="12.6"/><circle cx="1816.0" cy="887.8" r="12.6"/><circle cx="1872.1" cy="893.7" r="12.6"/><circle cx="1928.3" cy="948.3" r="12.6"/><circle cx="1984.5" cy="1045.8" r="12.6"/><circle cx="2040.6" cy="1328.1" r="12.6"/><circle cx="2096.8" cy="1152.8" r="12.6"/><circle cx="2115.5" cy="1057.9" r="12.6"/></g>
<path d="M243.5,636.7 L245.5,632.5 L247.5,628.3 L249.5,624.3 L251.5,620.3 L253.5,616.3 L255.5,612.5 L257.5,608.7 L259.5,605.0 L261.5,601.3 L263.5,597.7 L265.5,594.2 L267.5,590.8 L269.5,587.4 L271.5,584.1 L273.5,580.8 L275.5,577.7 L277.5,574.5 L279.5,571.5 L281.5,568.5 L283.5,565.6 L285.5,562.7 L287.5,559.9 L289.5,557.1 L291.5,554.5 L293.5,551.8 L295.5,549.3 L297.5,546.7 L299.5,544.3 L301.5,541.9 L303.5,539.6 L305.5,537.3 L307.5,535.0 L309.5,532.9 L311.5,530.7 L313.5,528.7 L315.5,526.7 L317.5,524.7 L319.5,522.8 L321.5,520.9 L323.5,519.1 L325.5,517.4 L327.5,515.6 L329.5,514.0 L331.5,512.4 L333.5,510.8 L335.5,509.3 L337.5,507.8 L339.5,506.4 L341.5,505.0 L343.5,503.6 L345.5,502.3 L347.5,501.1 L349.5,499.9 L351.5,498.7 L353.5,497.6 L355.5,496.5 L357.5,495.4 L359.5,494.4 L361.5,493.4 L363.5,492.5 L365.5,491.6 L367.5,490.7 L369.5,489.9 L371.5,489.1 L373.5,488.4 L375.5,487.7 L377.5,487.0 L379.5,486.4 L381.5,485.8 L383.5,485.2 L385.5,484.7 L387.5,484.2 L389.5,483.7 L391.5,483.2 L393.5,482.8 L395.5,482.5 L397.5,482.1 L399.5,481.8 L401.5,481.6 L403.5,481.3 L405.5,481.1 L407.5,480.9 L409.5,480.8 L411.5,480.6 L413.5,480.5 L415.5,480.5 L417.5,480.4 L419.5,480.4 L421.5,480.4 L423.5,480.5 L425.5,480.6 L427.5,480.7 L429.5,480.8 L431.5,481.0 L433.5,481.2 L435.5,481.4 L437.5,481.7 L439.5,482.0 L441.5,482.3 L443.5,482.7 L445.5,483.1 L447.5,483.5 L449.5,483.9 L451.5,484.4 L453.5,484.9 L455.5,485.5 L457.5,486.1 L459.5,486.7 L461.5,487.4 L463.5,488.1 L465.5,488.8 L467.5,489.5 L469.5,490.3 L471.5,491.2 L473.5,492.0 L475.5,492.9 L477.5,493.9 L479.5,494.9 L481.5,495.9 L483.5,496.9 L485.5,498.0 L487.5,499.2 L489.5,500.4 L491.5,501.6 L493.5,502.9 L495.5,504.2 L497.5,505.5 L499.5,506.9 L501.5,508.4 L503.5,509.9 L505.5,511.4 L507.5,513.0 L509.5,514.7 L511.5,516.4 L513.5,518.1 L515.5,519.9 L517.5,521.8 L519.5,523.7 L521.5,525.7 L523.5,527.7 L525.5,529.8 L527.5,531.9 L529.5,534.1 L531.5,536.3 L533.5,538.6 L535.5,541.0 L537.5,543.5 L539.5,546.0 L541.5,548.6 L543.5,551.2 L545.5,553.9 L547.5,556.7 L549.5,559.6 L551.5,562.6 L553.5,565.6 L555.5,568.8 L557.5,572.0 L559.5,575.3 L561.5,578.7 L563.5,582.1 L565.5,585.7 L567.5,589.4 L569.5,593.1 L571.5,597.0 L573.5,600.9 L575.5,605.0 L577.5,609.2 L579.5,613.4 L581.5,617.8 L583.5,622.3 L585.5,626.8 L587.5,631.5 L589.5,636.3 L591.5,641.2 L593.5,646.1 L595.5,651.2 L597.5,656.3 L599.5,661.6 L601.5,666.9 L603.5,672.3 L605.5,677.7 L607.5,683.3 L609.5,688.9 L611.5,694.6 L613.5,700.3 L615.5,706.1 L617.5,711.9 L619.5,717.9 L621.5,723.8 L623.5,729.9 L625.5,735.9 L627.5,742.0 L629.5,748.2 L631.5,754.4 L633.5,760.6 L635.5,766.9 L637.5,773.2 L639.5,779.5 L641.5,785.8 L643.5,792.1 L645.5,798.3 L647.5,804.5 L649.5,810.5 L651.5,816.5 L653.5,822.3 L655.5,827.9 L657.5,833.3 L659.5,838.6 L661.5,843.5 L663.5,848.3 L665.5,852.7 L667.5,856.8 L669.5,860.6 L671.5,864.1 L673.5,867.2 L675.5,869.8 L677.5,872.1 L679.5,873.8 L681.5,875.2 L683.5,876.0 L685.5,876.4 L687.5,876.3 L689.5,875.8 L691.5,874.8 L693.5,873.5 L695.5,871.8 L697.5,869.7 L699.5,867.3 L701.5,864.6 L703.5,861.6 L705.5,858.4 L707.5,855.0 L709.5,851.4 L711.5,847.6 L713.5,843.7 L715.5,839.7 L717.5,835.6 L719.5,831.5 L721.5,827.2 L723.5,823.0 L725.5,818.7 L727.5,814.4 L729.5,810.2 L731.5,805.9 L733.5,801.7 L735.5,797.5 L737.5,793.4 L739.5,789.4 L741.5,785.5 L743.5,781.7 L745.5,778.0 L747.5,774.4 L749.5,771.0 L751.5,767.7 L753.5,764.6 L755.5,761.6 L757.5,758.7 L759.5,755.9 L761.5,753.2 L763.5,750.6 L765.5,748.1 L767.5,745.6 L769.5,743.2 L771.5,740.8 L773.5,738.4 L775.5,736.0 L777.5,733.6 L779.5,731.1 L781.5,728.7 L783.5,726.3 L785.5,723.9 L787.5,721.5 L789.5,719.1 L791.5,716.7 L793.5,714.4 L795.5,712.1 L797.5,709.9 L799.5,707.7 L801.5,705.6 L803.5,703.6 L805.5,701.6 L807.5,699.7 L809.5,697.9 L811.5,696.2 L813.5,694.5 L815.5,692.9 L817.5,691.4 L819.5,689.9 L821.5,688.5 L823.5,687.2 L825.5,685.9 L827.5,684.7 L829.5,683.5 L831.5,682.4 L833.5,681.4 L835.5,680.4 L837.5,679.5 L839.5,678.6 L841.5,677.7 L843.5,676.9 L845.5,676.2 L847.5,675.5 L849.5,674.8 L851.5,674.1 L853.5,673.5 L855.5,673.0 L857.5,672.4 L859.5,671.9 L861.5,671.4 L863.5,671.0 L865.5,670.6 L867.5,670.2 L869.5,669.8 L871.5,669.5 L873.5,669.1 L875.5,668.8 L877.5,668.6 L879.5,668.4 L881.5,668.2 L883.5,668.0 L885.5,667.8 L887.5,667.7 L889.5,667.6 L891.5,667.6 L893.5,667.6 L895.5,667.6 L897.5,667.6 L899.5,667.7 L901.5,667.8 L903.5,667.9 L905.5,668.1 L907.5,668.3 L909.5,668.5 L911.5,668.8 L913.5,669.1 L915.5,669.4 L917.5,669.8 L919.5,670.2 L921.5,670.7 L923.5,671.1 L925.5,671.6 L927.5,672.2 L929.5,672.7 L931.5,673.4 L933.5,674.0 L935.5,674.7 L937.5,675.4 L939.5,676.1 L941.5,676.9 L943.5,677.7 L945.5,678.5 L947.5,679.4 L949.5,680.3 L951.5,681.2 L953.5,682.1 L955.5,683.1 L957.5,684.1 L959.5,685.2 L961.5,686.3 L963.5,687.4 L965.5,688.5 L967.5,689.7 L969.5,690.9 L971.5,692.1 L973.5,693.3 L975.5,694.6 L977.5,695.9 L979.5,697.3 L981.5,698.6 L983.5,700.0 L985.5,701.4 L987.5,702.9 L989.5,704.3 L991.5,705.8 L993.5,707.3 L995.5,708.8 L997.5,710.3 L999.5,711.8 L1001.5,713.4 L1003.5,715.0 L1005.5,716.5 L1007.5,718.1 L1009.5,719.7 L1011.5,721.3 L1013.5,723.0 L1015.5,724.6 L1017.5,726.2 L1019.5,727.9 L1021.5,729.5 L1023.5,731.2 L1025.5,732.8 L1027.5,734.5 L1029.5,736.1 L1031.5,737.8 L1033.5,739.4 L1035.5,741.0 L1037.5,742.7 L1039.5,744.3 L1041.5,745.9 L1043.5,747.6 L1045.5,749.2 L1047.5,750.8 L1049.5,752.4 L1051.5,754.0 L1053.5,755.6 L1055.5,757.1 L1057.5,758.7 L1059.5,760.2 L1061.5,761.8 L1063.5,763.3 L1065.5,764.8 L1067.5,766.3 L1069.5,767.7 L1071.5,769.2 L1073.5,770.6 L1075.5,772.0 L1077.5,773.4 L1079.5,774.8 L1081.5,776.1 L1083.5,777.4 L1085.5,778.7 L1087.5,780.0 L1089.5,781.3 L1091.5,782.5 L1093.5,783.7 L1095.5,784.9 L1097.5,786.0 L1099.5,787.2 L1101.5,788.3 L1103.5,789.4 L1105.5,790.5 L1107.5,791.6 L1109.5,792.7 L1111.5,793.7 L1113.5,794.8 L1115.5,795.8 L1117.5,796.9 L1119.5,797.9 L1121.5,798.9 L1123.5,799.9 L1125.5,800.9 L1127.5,801.9 L1129.5,802.9 L1131.5,803.9 L1133.5,804.9 L1135.5,806.0 L1137.5,807.0 L1139.5,808.0 L1141.5,809.0 L1143.5,810.0 L1145.5,811.1 L1147.5,812.1 L1149.5,813.2 L1151.5,814.3 L1153.5,815.4 L1155.5,816.5 L1157.5,817.6 L1159.5,818.8 L1161.5,820.0 L1163.5,821.2 L1165.5,822.4 L1167.5,823.7 L1169.5,825.0 L1171.5,826.3 L1173.5,827.7 L1175.5,829.1 L1177.5,830.6 L1179.5,832.1 L1181.5,833.6 L1183.5,835.2 L1185.5,836.9 L1187.5,838.5 L1189.5,840.3 L1191.5,842.1 L1193.5,844.0 L1195.5,845.9 L1197.5,847.9 L1199.5,849.9 L1201.5,852.0 L1203.5,854.2 L1205.5,856.5 L1207.5,858.8 L1209.5,861.2 L1211.5,863.7 L1213.5,866.3 L1215.5,868.9 L1217.5,871.6 L1219.5,874.5 L1221.5,877.4 L1223.5,880.4 L1225.5,883.5 L1227.5,886.7 L1229.5,890.0 L1231.5,893.4 L1233.5,896.9 L1235.5,900.6 L1237.5,904.3 L1239.5,908.2 L1241.5,912.1 L1243.5,916.2 L1245.5,920.4 L1247.5,924.8 L1249.5,929.3 L1251.5,933.8 L1253.5,938.6 L1255.5,943.4 L1257.5,948.4 L1259.5,953.5 L1261.5,958.7 L1263.5,964.0 L1265.5,969.3 L1267.5,974.7 L1269.5,980.1 L1271.5,985.5 L1273.5,990.9 L1275.5,996.2 L1277.5,1001.5 L1279.5,1006.8 L1281.5,1012.0 L1283.5,1017.1 L1285.5,1022.0 L1287.5,1026.9 L1289.5,1031.6 L1291.5,1036.1 L1293.5,1040.5 L1295.5,1044.7 L1297.5,1048.6 L1299.5,1052.3 L1301.5,1055.8 L1303.5,1059.0 L1305.5,1062.0 L1307.5,1064.6 L1309.5,1066.9 L1311.5,1068.9 L1313.5,1070.5 L1315.5,1071.7 L1317.5,1072.5 L1319.5,1072.7 L1321.5,1072.4 L1323.5,1071.4 L1325.5,1069.9 L1327.5,1067.9 L1329.5,1065.3 L1331.5,1062.3 L1333.5,1058.9 L1335.5,1055.0 L1337.5,1050.8 L1339.5,1046.2 L1341.5,1041.3 L1343.5,1036.1 L1345.5,1030.7 L1347.5,1025.1 L1349.5,1019.2 L1351.5,1013.3 L1353.5,1007.2 L1355.5,1001.0 L1357.5,994.7 L1359.5,988.5 L1361.5,982.2 L1363.5,976.0 L1365.5,969.8 L1367.5,963.8 L1369.5,957.9 L1371.5,952.0 L1373.5,946.3 L1375.5,940.8 L1377.5,935.3 L1379.5,929.9 L1381.5,924.7 L1383.5,919.5 L1385.5,914.5 L1387.5,909.5 L1389.5,904.7 L1391.5,899.9 L1393.5,895.3 L1395.5,890.7 L1397.5,886.3 L1399.5,881.9 L1401.5,877.6 L1403.5,873.4 L1405.5,869.3 L1407.5,865.3 L1409.5,861.3 L1411.5,857.4 L1413.5,853.6 L1415.5,849.9 L1417.5,846.3 L1419.5,842.7 L1421.5,839.2 L1423.5,835.7 L1425.5,832.3 L1427.5,829.0 L1429.5,825.7 L1431.5,822.5 L1433.5,819.4 L1435.5,816.4 L1437.5,813.4 L1439.5,810.4 L1441.5,807.6 L1443.5,804.8 L1445.5,802.1 L1447.5,799.4 L1449.5,796.8 L1451.5,794.3 L1453.5,791.8 L1455.5,789.5 L1457.5,787.1 L1459.5,784.9 L1461.5,782.7 L1463.5,780.6 L1465.5,778.6 L1467.5,776.7 L1469.5,774.8 L1471.5,773.0 L1473.5,771.2 L1475.5,769.6 L1477.5,768.0 L1479.5,766.4 L1481.5,765.0 L1483.5,763.6 L1485.5,762.3 L1487.5,761.1 L1489.5,760.0 L1491.5,758.9 L1493.5,757.9 L1495.5,756.9 L1497.5,756.1 L1499.5,755.3 L1501.5,754.6 L1503.5,754.0 L1505.5,753.4 L1507.5,752.9 L1509.5,752.5 L1511.5,752.1 L1513.5,751.9 L1515.5,751.7 L1517.5,751.5 L1519.5,751.5 L1521.5,751.5 L1523.5,751.6 L1525.5,751.7 L1527.5,752.0 L1529.5,752.3 L1531.5,752.6 L1533.5,753.1 L1535.5,753.6 L1537.5,754.2 L1539.5,754.8 L1541.5,755.5 L1543.5,756.3 L1545.5,757.2 L1547.5,758.0 L1549.5,759.0 L1551.5,760.0 L1553.5,761.0 L1555.5,762.1 L1557.5,763.2 L1559.5,764.4 L1561.5,765.6 L1563.5,766.8 L1565.5,768.1 L1567.5,769.4 L1569.5,770.7 L1571.5,772.0 L1573.5,773.4 L1575.5,774.8 L1577.5,776.1 L1579.5,777.5 L1581.5,778.9 L1583.5,780.3 L1585.5,781.7 L1587.5,783.1 L1589.5,784.4 L1591.5,785.8 L1593.5,787.2 L1595.5,788.5 L1597.5,789.8 L1599.5,791.1 L1601.5,792.3 L1603.5,793.4 L1605.5,794.5 L1607.5,795.5 L1609.5,796.4 L1611.5,797.2 L1613.5,797.9 L1615.5,798.5 L1617.5,799.0 L1619.5,799.3 L1621.5,799.5 L1623.5,799.5 L1625.5,799.4 L1627.5,799.1 L1629.5,798.6 L1631.5,798.0 L1633.5,797.2 L1635.5,796.2 L1637.5,795.1 L1639.5,793.8 L1641.5,792.4 L1643.5,790.8 L1645.5,789.1 L1647.5,787.2 L1649.5,785.2 L1651.5,783.0 L1653.5,780.6 L1655.5,778.2 L1657.5,775.6 L1659.5,772.9 L1661.5,770.0 L1663.5,767.1 L1665.5,764.1 L1667.5,761.0 L1669.5,757.8 L1671.5,754.6 L1673.5,751.3 L1675.5,747.9 L1677.5,744.5 L1679.5,741.0 L1681.5,737.5 L1683.5,734.0 L1685.5,730.5 L1687.5,726.9 L1689.5,723.4 L1691.5,719.8 L1693.5,716.3 L1695.5,712.8 L1697.5,709.3 L1699.5,705.8 L1701.5,702.4 L1703.5,699.1 L1705.5,695.8 L1707.5,692.5 L1709.5,689.3 L1711.5,686.2 L1713.5,683.1 L1715.5,680.1 L1717.5,677.1 L1719.5,674.2 L1721.5,671.4 L1723.5,668.6 L1725.5,665.9 L1727.5,663.2 L1729.5,660.6 L1731.5,658.1 L1733.5,655.6 L1735.5,653.2 L1737.5,650.9 L1739.5,648.6 L1741.5,646.4 L1743.5,644.2 L1745.5,642.1 L1747.5,640.1 L1749.5,638.1 L1751.5,636.2 L1753.5,634.4 L1755.5,632.6 L1757.5,630.9 L1759.5,629.3 L1761.5,627.7 L1763.5,626.2 L1765.5,624.7 L1767.5,623.4 L1769.5,622.0 L1771.5,620.8 L1773.5,619.6 L1775.5,618.5 L1777.5,617.4 L1779.5,616.4 L1781.5,615.4 L1783.5,614.5 L1785.5,613.6 L1787.5,612.8 L1789.5,612.1 L1791.5,611.4 L1793.5,610.7 L1795.5,610.1 L1797.5,609.6 L1799.5,609.1 L1801.5,608.6 L1803.5,608.2 L1805.5,607.8 L1807.5,607.5 L1809.5,607.2 L1811.5,606.9 L1813.5,606.7 L1815.5,606.5 L1817.5,606.4 L1819.5,606.3 L1821.5,606.2 L1823.5,606.2 L1825.5,606.2 L1827.5,606.2 L1829.5,606.3 L1831.5,606.3 L1833.5,606.4 L1835.5,606.5 L1837.5,606.7 L1839.5,606.8 L1841.5,607.0 L1843.5,607.1 L1845.5,607.3 L1847.5,607.5 L1849.5,607.7 L1851.5,607.9 L1853.5,608.1 L1855.5,608.3 L1857.5,608.5 L1859.5,608.7 L1861.5,608.9 L1863.5,609.1 L1865.5,609.3 L1867.5,609.5 L1869.5,609.6 L1871.5,609.8 L1873.5,609.9 L1875.5,610.0 L1877.5,610.1 L1879.5,610.2 L1881.5,610.2 L1883.5,610.3 L1885.5,610.3 L1887.5,610.3 L1889.5,610.3 L1891.5,610.3 L1893.5,610.3 L1895.5,610.3 L1897.5,610.2 L1899.5,610.1 L1901.5,610.1 L1903.5,610.0 L1905.5,609.9 L1907.5,609.8 L1909.5,609.7 L1911.5,609.5 L1913.5,609.4 L1915.5,609.2 L1917.5,609.1 L1919.5,608.9 L1921.5,608.7 L1923.5,608.6 L1925.5,608.4 L1927.5,608.2 L1929.5,608.0 L1931.5,607.8 L1933.5,607.6 L1935.5,607.3 L1937.5,607.1 L1939.5,606.9 L1941.5,606.6 L1943.5,606.4 L1945.5,606.2 L1947.5,605.9 L1949.5,605.7 L1951.5,605.4 L1953.5,605.2 L1955.5,604.9 L1957.5,604.7 L1959.5,604.4 L1961.5,604.2 L1963.5,603.9 L1965.5,603.7 L1967.5,603.5 L1969.5,603.2 L1971.5,603.0 L1973.5,602.7 L1975.5,602.5 L1977.5,602.3 L1979.5,602.0 L1981.5,601.8 L1983.5,601.6 L1985.5,601.4 L1987.5,601.2 L1989.5,601.0 L1991.5,600.8 L1993.5,600.6 L1995.5,600.4 L1997.5,600.3 L1999.5,600.1 L2001.5,600.0 L2003.5,599.8 L2005.5,599.7 L2007.5,599.6 L2009.5,599.5 L2011.5,599.4 L2013.5,599.3 L2015.5,599.3 L2017.5,599.2 L2019.5,599.2 L2021.5,599.2 L2023.5,599.2 L2025.5,599.2 L2027.5,599.3 L2029.5,599.3 L2031.5,599.4 L2033.5,599.5 L2035.5,599.6 L2037.5,599.7 L2039.5,599.9 L2041.5,600.1 L2043.5,600.3 L2045.5,600.5 L2047.5,600.7 L2049.5,601.0 L2051.5,601.3 L2053.5,601.6 L2055.5,601.9 L2057.5,602.3 L2059.5,602.6 L2061.5,603.0 L2063.5,603.4 L2065.5,603.9 L2067.5,604.3 L2069.5,604.8 L2071.5,605.3 L2073.5,605.8 L2075.5,606.3 L2077.5,606.9 L2079.5,607.4 L2081.5,608.0 L2083.5,608.6 L2085.5,609.3 L2087.5,609.9 L2089.5,610.6 L2091.5,611.2 L2093.5,611.9 L2095.5,612.6 L2097.5,613.4 L2099.5,614.1 L2101.5,614.9 L2103.5,615.7 L2105.5,616.5 L2107.5,617.3 L2109.5,618.1 L2111.5,619.0 L2113.5,619.8 L2115.5,620.7" fill="none" stroke="#00f" stroke-width="6.2" stroke-linejoin="round"/>
<g fill="#00f"><path d="M243.5,618.7 L258.8,645.7 L228.2,645.7Z"/><path d="M299.7,526.1 L315.0,553.1 L284.4,553.1Z"/><path d="M355.8,478.3 L371.1,505.3 L340.5,505.3Z"/><path d="M412.0,462.6 L427.3,489.6 L396.7,489.6Z"/><path d="M468.1,471.8 L483.4,498.8 L452.8,498.8Z"/><path d="M524.3,510.5 L539.6,537.5 L509.0,537.5Z"/><path d="M580.5,597.5 L595.8,624.5 L565.2,624.5Z"/><path d="M636.6,752.4 L651.9,779.4 L621.3,779.4Z"/><path d="M692.8,856.0 L708.1,883.0 L677.5,883.0Z"/><path d="M748.9,753.9 L764.2,780.9 L733.6,780.9Z"/><path d="M805.1,684.0 L820.4,711.0 L789.8,711.0Z"/><path d="M861.3,653.5 L876.6,680.5 L846.0,680.5Z"/><path d="M917.4,651.8 L932.7,678.8 L902.1,678.8Z"/><path d="M973.6,675.4 L988.9,702.4 L958.3,702.4Z"/><path d="M1029.7,718.3 L1045.0,745.3 L1014.4,745.3Z"/><path d="M1085.9,761.0 L1101.2,788.0 L1070.6,788.0Z"/><path d="M1142.1,791.3 L1157.4,818.3 L1126.8,818.3Z"/><path d="M1198.2,830.6 L1213.5,857.6 L1182.9,857.6Z"/><path d="M1254.4,922.7 L1269.7,949.7 L1239.1,949.7Z"/><path d="M1310.5,1050.0 L1325.8,1077.0 L1295.2,1077.0Z"/><path d="M1366.7,948.2 L1382.0,975.2 L1351.4,975.2Z"/><path d="M1422.9,818.8 L1438.2,845.8 L1407.6,845.8Z"/><path d="M1479.0,748.8 L1494.3,775.8 L1463.7,775.8Z"/><path d="M1535.2,735.5 L1550.5,762.5 L1519.9,762.5Z"/><path d="M1591.3,767.7 L1606.6,794.7 L1576.0,794.7Z"/><path d="M1647.5,769.2 L1662.8,796.2 L1632.2,796.2Z"/><path d="M1703.7,680.8 L1719.0,707.8 L1688.4,707.8Z"/><path d="M1759.8,611.0 L1775.1,638.0 L1744.5,638.0Z"/><path d="M1816.0,588.5 L1831.3,615.5 L1800.7,615.5Z"/><path d="M1872.1,591.8 L1887.4,618.8 L1856.8,618.8Z"/><path d="M1928.3,590.1 L1943.6,617.1 L1913.0,617.1Z"/><path d="M1984.5,583.5 L1999.8,610.5 L1969.2,610.5Z"/><path d="M2040.6,582.0 L2055.9,609.0 L2025.3,609.0Z"/><path d="M2096.8,595.1 L2112.1,622.1 L2081.5,622.1Z"/><path d="M2115.5,602.7 L2130.8,629.7 L2100.2,629.7Z"/></g>
</g>
<path d="M430.7,1585.5 V1568.8 M617.9,1585.5 V1553.8 M805.1,1585.5 V1568.8 M992.3,1585.5 V1553.8 M1179.5,1585.5 V1568.8 M1366.7,1585.5 V1553.8 M1553.9,1585.5 V1568.8 M1741.1,1585.5 V1553.8 M1928.3,1585.5 V1568.8 M243.5,206.2 H259.8 M243.5,359.5 H273.2 M243.5,512.8 H259.8 M243.5,666.0 H273.2 M243.5,819.2 H259.8 M243.5,972.5 H273.2 M243.5,1125.8 H259.8 M243.5,1279.0 H273.2 M243.5,1432.2 H259.8" stroke="#000" stroke-width="5.8" fill="none"/>
<g font-family="'Liberation Serif', serif" fill="#000">
<text x="243.5" y="1673" font-size="78" text-anchor="middle">2</text>
<text x="617.9" y="1673" font-size="78" text-anchor="middle">4</text>
<text x="992.3" y="1673" font-size="78" text-anchor="middle">6</text>
<text x="1366.7" y="1673" font-size="78" text-anchor="middle">8</text>
<text x="1741.1" y="1673" font-size="78" text-anchor="middle">10</text>
<text x="2115.5" y="1673" font-size="78" text-anchor="middle">12</text>
<text x="210" y="74.5" font-size="78" text-anchor="end" letter-spacing="-0.9">0</text>
<text x="210" y="381.0" font-size="78" text-anchor="end" letter-spacing="-0.9"><tspan font-weight="bold" font-size="72" dy="2.8">-</tspan><tspan dy="-2.8">10</tspan></text>
<text x="210" y="687.5" font-size="78" text-anchor="end" letter-spacing="-0.9"><tspan font-weight="bold" font-size="72" dy="2.8">-</tspan><tspan dy="-2.8">20</tspan></text>
<text x="210" y="994.0" font-size="78" text-anchor="end" letter-spacing="-0.9"><tspan font-weight="bold" font-size="72" dy="2.8">-</tspan><tspan dy="-2.8">30</tspan></text>
<text x="210" y="1300.5" font-size="78" text-anchor="end" letter-spacing="-0.9"><tspan font-weight="bold" font-size="72" dy="2.8">-</tspan><tspan dy="-2.8">40</tspan></text>
<text x="210" y="1607.0" font-size="78" text-anchor="end" letter-spacing="-0.9"><tspan font-weight="bold" font-size="72" dy="2.8">-</tspan><tspan dy="-2.8">50</tspan></text>
<text transform="translate(1180.3,1802.3) scale(0.94,1)" font-size="80.5" text-anchor="middle">Frequency (GHz)</text>
<text transform="translate(78.6,818) rotate(-90) scale(0.94,1)" font-size="81" text-anchor="middle">S-Parameters (dB)</text>
<path d="M1769,140.5 H1947.7" stroke="#000" stroke-width="5.2" fill="none"/>
<rect x="1846.0" y="128.8" width="23.4" height="23.4" fill="#000"/>
<text x="1961" y="165.2" font-size="80" font-style="italic">S<tspan font-size="66" dy="20.8">i,<tspan dx="3">i</tspan></tspan></text>
<path d="M1769,255.7 H1947.7" stroke="#f00" stroke-width="5.2" fill="none"/>
<circle cx="1857.7" cy="255.7" r="12.6" fill="#f00"/>
<text x="1961" y="280.4" font-size="80" font-style="italic">S<tspan font-size="66" dy="20.8">j,<tspan dx="3">i</tspan></tspan></text>
<path d="M1769,370.4 H1947.7" stroke="#00f" stroke-width="5.2" fill="none"/>
<path d="M1857.7,352.4 L1873.0,379.4 L1842.4,379.4Z" fill="#00f"/>
<text x="1961" y="393.7" font-size="80" font-style="italic">S<tspan font-size="66" dy="20.8">k,<tspan dx="3">i</tspan></tspan></text>
</g>
</svg>
</body></html>
